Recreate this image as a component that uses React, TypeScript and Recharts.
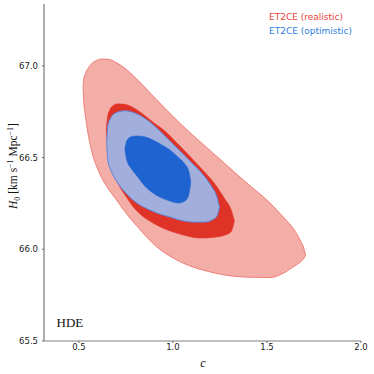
import { ComposedChart, Area, XAxis, YAxis } from "recharts";

type Pt = { c: number; lo: number; hi: number };

// contour edges: for each c, lower and upper H0
const realistic2s: Pt[] = [
  { c: 0.522, lo: 66.886, hi: 66.886 },
  { c: 0.525, lo: 66.815, hi: 66.924 },
  { c: 0.536, lo: 66.716, hi: 66.962 },
  { c: 0.552, lo: 66.61, hi: 66.992 },
  { c: 0.573, lo: 66.514, hi: 67.017 },
  { c: 0.595, lo: 66.449, hi: 67.03 },
  { c: 0.62, lo: 66.391, hi: 67.037 },
  { c: 0.653, lo: 66.334, hi: 67.036 },
  { c: 0.696, lo: 66.274, hi: 67.019 },
  { c: 0.744, lo: 66.206, hi: 66.987 },
  { c: 0.806, lo: 66.129, hi: 66.929 },
  { c: 0.913, lo: 66.014, hi: 66.815 },
  { c: 1.037, lo: 65.933, hi: 66.687 },
  { c: 1.212, lo: 65.873, hi: 66.525 },
  { c: 1.393, lo: 65.848, hi: 66.361 },
  { c: 1.516, lo: 65.846, hi: 66.252 },
  { c: 1.596, lo: 65.875, hi: 66.165 },
  { c: 1.638, lo: 65.903, hi: 66.116 },
  { c: 1.676, lo: 65.93, hi: 66.05 },
  { c: 1.697, lo: 65.952, hi: 66.001 },
  { c: 1.705, lo: 65.968, hi: 65.968 },
];

const realistic1s: Pt[] = [
  { c: 0.645, lo: 66.651, hi: 66.651 },
  { c: 0.651, lo: 66.569, hi: 66.716 },
  { c: 0.664, lo: 66.487, hi: 66.76 },
  { c: 0.68, lo: 66.421, hi: 66.782 },
  { c: 0.706, lo: 66.361, hi: 66.793 },
  { c: 0.744, lo: 66.296, hi: 66.79 },
  { c: 0.808, lo: 66.208, hi: 66.76 },
  { c: 0.893, lo: 66.143, hi: 66.694 },
  { c: 0.957, lo: 66.11, hi: 66.645 },
  { c: 1.037, lo: 66.083, hi: 66.563 },
  { c: 1.143, lo: 66.061, hi: 66.449 },
  { c: 1.223, lo: 66.066, hi: 66.356 },
  { c: 1.276, lo: 66.077, hi: 66.274 },
  { c: 1.308, lo: 66.094, hi: 66.219 },
  { c: 1.327, lo: 66.154, hi: 66.154 },
];

const optimistic2s: Pt[] = [
  { c: 0.648, lo: 66.58, hi: 66.58 },
  { c: 0.653, lo: 66.487, hi: 66.673 },
  { c: 0.669, lo: 66.432, hi: 66.716 },
  { c: 0.696, lo: 66.378, hi: 66.744 },
  { c: 0.744, lo: 66.312, hi: 66.755 },
  { c: 0.808, lo: 66.252, hi: 66.738 },
  { c: 0.877, lo: 66.214, hi: 66.694 },
  { c: 0.93, lo: 66.192, hi: 66.645 },
  { c: 0.983, lo: 66.176, hi: 66.591 },
  { c: 1.037, lo: 66.159, hi: 66.536 },
  { c: 1.106, lo: 66.148, hi: 66.465 },
  { c: 1.17, lo: 66.148, hi: 66.394 },
  { c: 1.207, lo: 66.159, hi: 66.339 },
  { c: 1.234, lo: 66.181, hi: 66.285 },
  { c: 1.247, lo: 66.23, hi: 66.23 },
];

const optimistic1s: Pt[] = [
  { c: 0.744, lo: 66.542, hi: 66.542 },
  { c: 0.754, lo: 66.487, hi: 66.591 },
  { c: 0.776, lo: 66.443, hi: 66.613 },
  { c: 0.808, lo: 66.4, hi: 66.618 },
  { c: 0.85, lo: 66.345, hi: 66.613 },
  { c: 0.893, lo: 66.307, hi: 66.596 },
  { c: 0.941, lo: 66.279, hi: 66.569 },
  { c: 0.983, lo: 66.263, hi: 66.542 },
  { c: 1.026, lo: 66.252, hi: 66.503 },
  { c: 1.063, lo: 66.263, hi: 66.465 },
  { c: 1.084, lo: 66.296, hi: 66.427 },
  { c: 1.095, lo: 66.367, hi: 66.367 },
];

const xTicks = [0.5, 1.0, 1.5, 2.0];
const yTicks = [65.5, 66.0, 66.5, 67.0];

const contours = [
  { key: "r2", pts: realistic2s, fill: "#f4aea8", stroke: "#ef7d75", sw: 1 },
  { key: "r1", pts: realistic1s, fill: "#e03327", stroke: "#e03327", sw: 0.5 },
  { key: "o2", pts: optimistic2s, fill: "#a2aedb", stroke: "#5c86dc", sw: 1 },
  { key: "o1", pts: optimistic1s, fill: "#1f63d0", stroke: "#1f63d0", sw: 0.5 },
];

// one row per c, each contour gets [lo, hi] where it exists
function buildRows() {
  const byC = new Map<number, any>();
  contours.forEach((s) =>
    s.pts.forEach((p) => {
      const row = byC.get(p.c) ?? { c: p.c };
      row[s.key] = [p.lo, p.hi];
      byC.set(p.c, row);
    })
  );
  return Array.from(byC.values()).sort((a, b) => a.c - b.c);
}

const rows = buildRows();
const tickFont = { fontFamily: "DejaVu Sans", fontSize: 8.5, fill: "#222" };

export default function App() {
  return (
    <div style={{ position: "absolute", left: 0, top: 0, width: 374, height: 374, background: "#fff" }}>
      <ComposedChart
        width={374}
        height={374}
        data={rows}
        margin={{ top: 4, right: 13, bottom: 0, left: 0 }}
      >
        <XAxis
          dataKey="c"
          type="number"
          domain={[0.314, 2.0]}
          ticks={xTicks}
          allowDataOverflow
          height={33}
          tickSize={2}
          tickMargin={1}
          tick={tickFont}
          tickFormatter={(v: number) => v.toFixed(1)}
          axisLine={{ stroke: "#aaa", strokeWidth: 1.5 }}
          tickLine={{ stroke: "#666" }}
        />
        <XAxis
          xAxisId="top"
          orientation="top"
          dataKey="c"
          type="number"
          domain={[0.314, 2.0]}
          height={0}
          tick={false}
          tickLine={false}
          axisLine={{ stroke: "#444" }}
        />
        <YAxis
          type="number"
          domain={[65.5, 67.337]}
          ticks={yTicks}
          allowDataOverflow
          width={44}
          tickSize={2}
          tickMargin={4}
          tick={tickFont}
          tickFormatter={(v: number) => v.toFixed(1)}
          axisLine={{ stroke: "#777", strokeWidth: 1.2 }}
          tickLine={{ stroke: "#666" }}
        />
        <YAxis
          yAxisId="right"
          orientation="right"
          type="number"
          domain={[65.5, 67.337]}
          width={0}
          tick={false}
          tickLine={false}
          axisLine={{ stroke: "#444" }}
        />
        {contours.map((s) => (
          <Area
            key={s.key}
            dataKey={s.key}
            type="monotone"
            connectNulls
            fill={s.fill}
            fillOpacity={1}
            stroke={s.stroke}
            strokeWidth={s.sw}
            dot={false}
            activeDot={false}
            isAnimationActive={false}
          />
        ))}
      </ComposedChart>
      <svg
        width={374}
        height={374}
        style={{ position: "absolute", left: 0, top: 0, pointerEvents: "none" }}
      >
        <text x={269} y={19.5} fontFamily="DejaVu Sans" fontSize={9} fill="#e8443a">
          ET2CE (realistic)
        </text>
        <text x={269} y={33.5} fontFamily="DejaVu Sans" fontSize={9} fill="#2d7fe0">
          ET2CE (optimistic)
        </text>
        <text x={56.5} y={327} fontFamily="Liberation Serif" fontSize={13} fill="#111">
          HDE
        </text>
        <text x={203} y={367} fontFamily="Liberation Serif" fontStyle="italic" fontSize={12} fill="#111" textAnchor="middle">
          c
        </text>
        <text
          transform="translate(17,166) rotate(-90)"
          fontFamily="Liberation Serif"
          fontSize={11.5}
          fill="#111"
          textAnchor="middle"
        >
          <tspan fontStyle="italic">H</tspan>
          <tspan fontSize={8} dy={2.5}>0</tspan>
          <tspan dy={-2.5}> [km s</tspan>
          <tspan fontSize={8} dy={-4.5}>−1</tspan>
          <tspan dy={4.5}> Mpc</tspan>
          <tspan fontSize={8} dy={-4.5}>−1</tspan>
          <tspan dy={4.5}>]</tspan>
        </text>
      </svg>
    </div>
  );
}
